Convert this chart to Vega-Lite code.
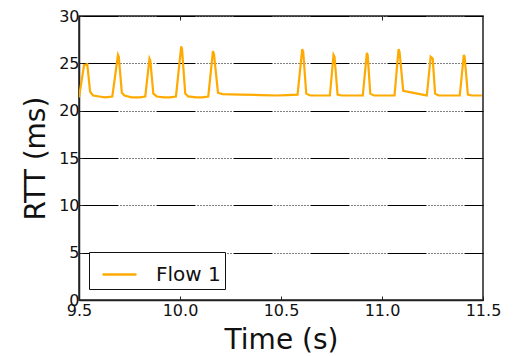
{
  "$schema": "https://vega.github.io/schema/vega-lite/v6.json",
  "autosize": "none",
  "width": 404,
  "height": 284,
  "padding": {"left": 79, "top": 16, "right": 31, "bottom": 56},
  "background": "white",
  "config": {
    "font": "DejaVu Sans",
    "view": {"stroke": "#222", "strokeWidth": 1.5},
    "axis": {"labelFont": "DejaVu Sans", "titleFont": "DejaVu Sans", "labelColor": "#111", "titleColor": "#111", "domainColor": "#222", "domainWidth": 1.5, "tickColor": "#222", "titleFontWeight": "normal", "labelFlush": false}
  },
  "data": {"values": [
    {"t": 9.500, "rtt": 21.4, "flow": "Flow 1"},
    {"t": 9.525, "rtt": 24.8, "flow": "Flow 1"},
    {"t": 9.541, "rtt": 24.9, "flow": "Flow 1"},
    {"t": 9.555, "rtt": 22.0, "flow": "Flow 1"},
    {"t": 9.570, "rtt": 21.6, "flow": "Flow 1"},
    {"t": 9.600, "rtt": 21.5, "flow": "Flow 1"},
    {"t": 9.630, "rtt": 21.4, "flow": "Flow 1"},
    {"t": 9.665, "rtt": 21.5, "flow": "Flow 1"},
    {"t": 9.693, "rtt": 25.9, "flow": "Flow 1"},
    {"t": 9.697, "rtt": 25.7, "flow": "Flow 1"},
    {"t": 9.712, "rtt": 21.9, "flow": "Flow 1"},
    {"t": 9.725, "rtt": 21.6, "flow": "Flow 1"},
    {"t": 9.760, "rtt": 21.4, "flow": "Flow 1"},
    {"t": 9.800, "rtt": 21.4, "flow": "Flow 1"},
    {"t": 9.828, "rtt": 21.5, "flow": "Flow 1"},
    {"t": 9.849, "rtt": 25.5, "flow": "Flow 1"},
    {"t": 9.853, "rtt": 25.3, "flow": "Flow 1"},
    {"t": 9.868, "rtt": 21.8, "flow": "Flow 1"},
    {"t": 9.885, "rtt": 21.5, "flow": "Flow 1"},
    {"t": 9.920, "rtt": 21.4, "flow": "Flow 1"},
    {"t": 9.950, "rtt": 21.4, "flow": "Flow 1"},
    {"t": 9.980, "rtt": 21.5, "flow": "Flow 1"},
    {"t": 10.006, "rtt": 26.8, "flow": "Flow 1"},
    {"t": 10.010, "rtt": 26.5, "flow": "Flow 1"},
    {"t": 10.026, "rtt": 21.8, "flow": "Flow 1"},
    {"t": 10.040, "rtt": 21.5, "flow": "Flow 1"},
    {"t": 10.080, "rtt": 21.4, "flow": "Flow 1"},
    {"t": 10.110, "rtt": 21.4, "flow": "Flow 1"},
    {"t": 10.140, "rtt": 21.5, "flow": "Flow 1"},
    {"t": 10.163, "rtt": 26.3, "flow": "Flow 1"},
    {"t": 10.168, "rtt": 26.0, "flow": "Flow 1"},
    {"t": 10.188, "rtt": 21.9, "flow": "Flow 1"},
    {"t": 10.210, "rtt": 21.75, "flow": "Flow 1"},
    {"t": 10.300, "rtt": 21.7, "flow": "Flow 1"},
    {"t": 10.400, "rtt": 21.65, "flow": "Flow 1"},
    {"t": 10.480, "rtt": 21.6, "flow": "Flow 1"},
    {"t": 10.530, "rtt": 21.65, "flow": "Flow 1"},
    {"t": 10.582, "rtt": 21.7, "flow": "Flow 1"},
    {"t": 10.605, "rtt": 26.5, "flow": "Flow 1"},
    {"t": 10.610, "rtt": 26.2, "flow": "Flow 1"},
    {"t": 10.625, "rtt": 21.8, "flow": "Flow 1"},
    {"t": 10.645, "rtt": 21.6, "flow": "Flow 1"},
    {"t": 10.700, "rtt": 21.6, "flow": "Flow 1"},
    {"t": 10.742, "rtt": 21.6, "flow": "Flow 1"},
    {"t": 10.760, "rtt": 25.9, "flow": "Flow 1"},
    {"t": 10.765, "rtt": 25.7, "flow": "Flow 1"},
    {"t": 10.780, "rtt": 21.7, "flow": "Flow 1"},
    {"t": 10.800, "rtt": 21.6, "flow": "Flow 1"},
    {"t": 10.860, "rtt": 21.6, "flow": "Flow 1"},
    {"t": 10.905, "rtt": 21.6, "flow": "Flow 1"},
    {"t": 10.925, "rtt": 26.1, "flow": "Flow 1"},
    {"t": 10.929, "rtt": 25.9, "flow": "Flow 1"},
    {"t": 10.942, "rtt": 21.8, "flow": "Flow 1"},
    {"t": 10.960, "rtt": 21.6, "flow": "Flow 1"},
    {"t": 11.010, "rtt": 21.6, "flow": "Flow 1"},
    {"t": 11.062, "rtt": 21.6, "flow": "Flow 1"},
    {"t": 11.082, "rtt": 26.5, "flow": "Flow 1"},
    {"t": 11.087, "rtt": 26.2, "flow": "Flow 1"},
    {"t": 11.105, "rtt": 22.1, "flow": "Flow 1"},
    {"t": 11.150, "rtt": 21.9, "flow": "Flow 1"},
    {"t": 11.200, "rtt": 21.7, "flow": "Flow 1"},
    {"t": 11.222, "rtt": 21.6, "flow": "Flow 1"},
    {"t": 11.241, "rtt": 25.7, "flow": "Flow 1"},
    {"t": 11.251, "rtt": 25.5, "flow": "Flow 1"},
    {"t": 11.263, "rtt": 21.8, "flow": "Flow 1"},
    {"t": 11.280, "rtt": 21.6, "flow": "Flow 1"},
    {"t": 11.330, "rtt": 21.6, "flow": "Flow 1"},
    {"t": 11.385, "rtt": 21.6, "flow": "Flow 1"},
    {"t": 11.405, "rtt": 25.9, "flow": "Flow 1"},
    {"t": 11.409, "rtt": 25.7, "flow": "Flow 1"},
    {"t": 11.425, "rtt": 21.7, "flow": "Flow 1"},
    {"t": 11.445, "rtt": 21.6, "flow": "Flow 1"},
    {"t": 11.494, "rtt": 21.6, "flow": "Flow 1"}
  ]},
  "layer": [
    {
      "mark": {"type": "line", "strokeWidth": 2.2, "clip": true},
      "encoding": {
        "x": {"field": "t", "type": "quantitative", "scale": {"domain": [9.5, 11.5], "nice": false, "zero": false},
          "axis": {"orient": "bottom", "values": [9.5, 10, 10.5, 11, 11.5], "format": ".1f", "grid": false, "title": "Time (s)", "titleFontSize": 28, "labelFontSize": 16, "tickSize": -4, "labelPadding": 6, "titlePadding": 8}},
        "y": {"field": "rtt", "type": "quantitative", "scale": {"domain": [0, 30], "nice": false},
          "axis": {"values": [0, 5, 10, 15, 20, 25, 30], "grid": true, "gridColor": "#000", "gridWidth": 1, "gridDash": [39, 2, 1, 2, 1, 2, 1, 2, 1, 2, 1, 2, 1, 2, 1, 2, 1, 2, 1, 2, 1, 2, 1, 2, 1, 2], "title": "RTT (ms)", "titleFontSize": 28, "labelFontSize": 16, "tickSize": -4, "labelPadding": 4, "titlePadding": 8}},
        "color": {"field": "flow", "type": "nominal", "scale": {"range": ["#FFAA00"]},
          "legend": {"title": null, "orient": "none", "legendX": 10, "legendY": 236, "strokeColor": "#111", "fillColor": "white", "padding": 4, "symbolType": "stroke", "symbolSize": 1156, "symbolOffset": 8, "symbolStrokeWidth": 2.5, "labelFontSize": 20, "labelColor": "#111", "labelOffset": 18}}
      }
    },
    {
      "mark": {"type": "point", "opacity": 0},
      "encoding": {
        "x": {"field": "t", "type": "quantitative", "scale": {"domain": [9.5, 11.5], "nice": false, "zero": false}, "axis": {"orient": "top", "values": [10, 11], "labels": false, "domain": false, "grid": false, "title": null, "tickSize": -4}}
      }
    }
  ],
  "resolve": {"axis": {"x": "independent"}}
}
